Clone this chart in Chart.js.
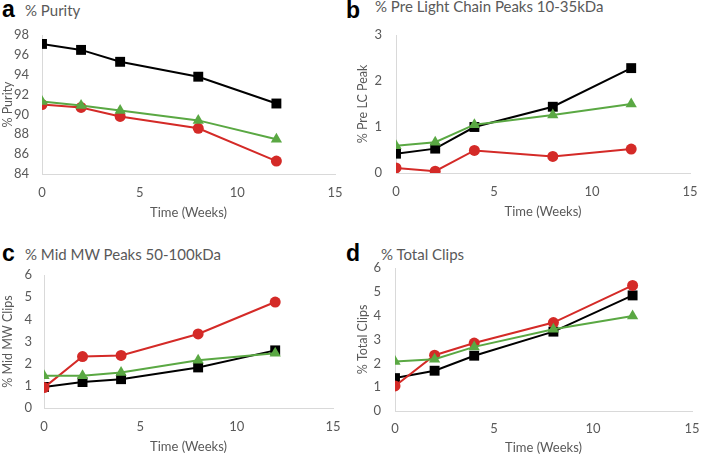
<!DOCTYPE html>
<html>
<head>
<meta charset="utf-8">
<script src="https://cdn.jsdelivr.net/npm/chart.js@4.4.0/dist/chart.umd.min.js"></script>
<style>
  body { margin: 0; background: #fff; width: 711px; height: 456px; position: relative; overflow: hidden; }
  .panel { position: absolute; }
  .letter { position: absolute; font-family: 'Liberation Sans', Arial, sans-serif; font-weight: bold; font-size: 23px; line-height: 1; color: #000; }
  .title { position: absolute; font-family: Lato, 'Open Sans', sans-serif; font-size: 15px; line-height: 1; color: #595959; white-space: nowrap; }
</style>
</head>
<body>
<div class="letter" style="left:2px;top:-2px;">a</div>
<div class="title" style="left:25px;top:3px;">% Purity</div>
<div class="letter" style="left:346px;top:-1px;">b</div>
<div class="title" style="left:375px;top:-1px;">% Pre Light Chain Peaks 10-35kDa</div>
<div class="letter" style="left:2px;top:242px;">c</div>
<div class="title" style="left:25px;top:247px;">% Mid MW Peaks 50-100kDa</div>
<div class="letter" style="left:346px;top:242px;">d</div>
<div class="title" style="left:381px;top:247px;">% Total Clips</div>

<div class="panel" style="left:0;top:0;"><canvas id="chartA" width="355" height="228"></canvas></div>
<div class="panel" style="left:355px;top:0;"><canvas id="chartB" width="356" height="228"></canvas></div>
<div class="panel" style="left:0;top:228px;"><canvas id="chartC" width="355" height="228"></canvas></div>
<div class="panel" style="left:355px;top:228px;"><canvas id="chartD" width="356" height="228"></canvas></div>

<script>
const weeks = [0, 2, 4, 8, 12];
const xTicks = [0, 5, 10, 15];

// a: % purity
const purityBlack = [97.1, 96.5, 95.3, 93.8, 91.1];
const purityRed = [91.0, 90.7, 89.8, 88.6, 85.3];
const purityGreen = [91.3, 90.9, 90.4, 89.4, 87.5];

// b: % pre light chain peaks
const preLcBlack = [0.42, 0.53, 1.0, 1.44, 2.28];
const preLcRed = [0.11, 0.04, 0.49, 0.36, 0.52];
const preLcGreen = [0.59, 0.67, 1.05, 1.26, 1.5];

// c: % mid MW peaks
const midMwBlack = [0.95, 1.17, 1.3, 1.83, 2.6];
const midMwRed = [0.92, 2.32, 2.37, 3.34, 4.78];
const midMwGreen = [1.45, 1.45, 1.6, 2.15, 2.47];

// d: % total clips
const totalBlack = [1.38, 1.69, 2.32, 3.33, 4.85];
const totalRed = [1.05, 2.34, 2.85, 3.71, 5.27];
const totalGreen = [2.08, 2.17, 2.69, 3.43, 3.99];

const BLACK = '#000000';
const RED = '#d42a27';
const GREEN = '#5aa843';
const AXIS = '#d9d9d9';
const TEXT = '#595959';

Chart.defaults.animation = false;
Chart.defaults.font.family = 'Lato';
Chart.defaults.color = TEXT;

const pts = (ys) => weeks.map((w, i) => ({ x: w, y: ys[i] }));

function series(label, ys, color, style, radius) {
  return {
    label: label,
    data: pts(ys),
    borderColor: color,
    backgroundColor: color,
    borderWidth: 2,
    pointStyle: style,
    pointRadius: radius,
    pointHoverRadius: radius,
    pointBorderWidth: 0,
    tension: 0,
  };
}

function makeChart(id, cfg) {
  new Chart(document.getElementById(id), {
    type: 'line',
    data: {
      // first dataset is drawn on top
      datasets: [
        series('Green', cfg.green, GREEN, 'triangle', 6.5),
        series('Red', cfg.red, RED, 'circle', 5.5),
        series('Black', cfg.black, BLACK, 'rect', 7),
      ],
    },
    options: {
      responsive: false,
      devicePixelRatio: 1,
      layout: { padding: { top: cfg.top, right: cfg.right, left: 0, bottom: 0 } },
      plugins: { legend: { display: false }, tooltip: { enabled: false } },
      scales: {
        x: {
          type: 'linear',
          min: 0,
          max: 15,
          afterBuildTicks: (s) => { s.ticks = xTicks.map((v) => ({ value: v })); },
          afterFit: (s) => { s.height = cfg.xHeight; },
          grid: { display: false, drawTicks: false },
          border: { display: true, color: AXIS, width: 1 },
          ticks: { padding: cfg.xPad, font: { size: 13 }, color: TEXT },
          title: { display: true, text: 'Time (Weeks)', font: { size: 13 }, color: TEXT, padding: { top: 0, bottom: cfg.titlePad } },
        },
        y: {
          min: cfg.yMin,
          max: cfg.yMax,
          ticks: { stepSize: cfg.yStep, padding: cfg.yPad, font: { size: 13 }, color: TEXT },
          afterFit: (s) => { s.width = cfg.yWidth; },
          grid: { display: false, drawTicks: false },
          border: { display: true, color: AXIS, width: 1 },
          title: { display: true, text: cfg.yTitle, font: { size: 12.5 }, color: TEXT, padding: { top: 0, bottom: 0 } },
        },
      },
    },
  });
}

makeChart('chartA', {
  black: purityBlack, red: purityRed, green: purityGreen,
  yMin: 84, yMax: 98, yStep: 2, yTitle: '% Purity',
  top: 35, right: 20, yWidth: 42, yPad: 13, xHeight: 54, xPad: 11, titlePad: 7,
});
makeChart('chartB', {
  black: preLcBlack, red: preLcRed, green: preLcGreen,
  yMin: 0, yMax: 3, yStep: 1, yTitle: '% Pre LC Peak',
  top: 35, right: 21, yWidth: 41, yPad: 14, xHeight: 55, xPad: 11, titlePad: 8,
});
makeChart('chartC', {
  black: midMwBlack, red: midMwRed, green: midMwGreen,
  yMin: 0, yMax: 6, yStep: 1, yTitle: '% Mid MW Clips',
  top: 47, right: 22, yWidth: 44, yPad: 12, xHeight: 48, xPad: 11, titlePad: 1,
});
makeChart('chartD', {
  black: totalBlack, red: totalRed, green: totalGreen,
  yMin: 0, yMax: 6, yStep: 1, yTitle: '% Total Clips',
  top: 40, right: 19, yWidth: 40, yPad: 14, xHeight: 45, xPad: 10, titlePad: 0,
});
</script>
</body>
</html>
